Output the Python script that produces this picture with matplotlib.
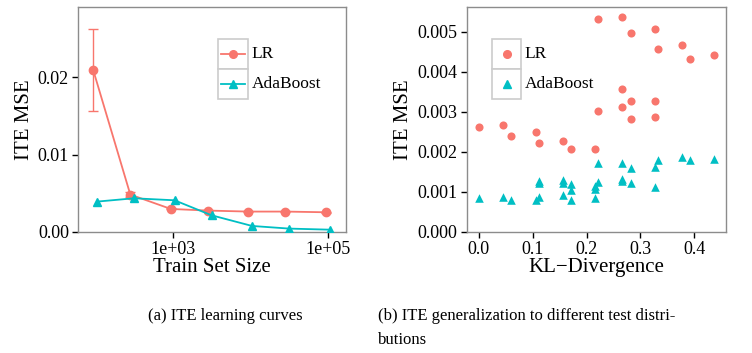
import numpy as np
import matplotlib.pyplot as plt
from matplotlib.lines import Line2D
from matplotlib.patches import Rectangle

plt.rcParams['font.family'] = ['Liberation Serif', 'DejaVu Serif']

LR_COL = '#F8766D'
ADA_COL = '#00BFC4'

# (a) learning curves
train_size = [100, 300, 1000, 3000, 10000, 30000, 100000]
lr_mse = [0.0209, 0.00484, 0.00298, 0.00277, 0.00264, 0.00264, 0.00255]
lr_low = [0.0157, 0.0045, 0.00292, 0.00272, 0.00260, 0.00260, 0.00252]
lr_high = [0.0263, 0.0052, 0.00304, 0.00282, 0.00268, 0.00268, 0.00258]
ada_mse = [0.00393, 0.00436, 0.00410, 0.00216, 0.00078, 0.00044, 0.00030]

# (b) generalization vs KL divergence
lr_kl = [0.0, 0.045, 0.0606, 0.1057, 0.111, 0.156, 0.172, 0.216, 0.222, 0.222,
         0.266, 0.266, 0.266, 0.2825, 0.2825, 0.2825, 0.327, 0.327, 0.327,
         0.3326, 0.377, 0.3926, 0.437]
lr_gen = [0.00263, 0.00268, 0.00241, 0.00251, 0.00223, 0.00228, 0.00208,
          0.00208, 0.00303, 0.00532, 0.00537, 0.00356, 0.00311, 0.00496,
          0.00326, 0.00281, 0.00506, 0.00326, 0.00288, 0.00456, 0.00468,
          0.00431, 0.00441]
ada_kl = [0.0, 0.045, 0.0606, 0.1057, 0.111, 0.111, 0.111, 0.156, 0.156, 0.156,
          0.172, 0.172, 0.172, 0.216, 0.216, 0.216, 0.222, 0.222, 0.266, 0.266,
          0.266, 0.2825, 0.2825, 0.327, 0.327, 0.3326, 0.377, 0.3926, 0.437]
ada_gen = [0.00085, 0.00088, 0.00079, 0.00081, 0.00088, 0.00128, 0.00122,
           0.00129, 0.00122, 0.00092, 0.00121, 0.00106, 0.00079, 0.00085,
           0.00108, 0.00115, 0.00173, 0.00126, 0.00173, 0.00132, 0.00127,
           0.00160, 0.00123, 0.00162, 0.00113, 0.00181, 0.00187, 0.00181,
           0.00183]


def style_axes(ax):
    for s in ax.spines.values():
        s.set_color('#8c8c8c')
        s.set_linewidth(1.0)
    ax.tick_params(direction='out', length=4.5, width=1, colors='black',
                   labelsize=13, pad=2)
    ax.set_facecolor('white')


def draw_legend(ax, x0, with_line):
    w, h = 0.112, 0.133
    tops = [0.858, 0.725]
    for (lab, col, mk), top in zip([('LR', LR_COL, 'o'), ('AdaBoost', ADA_COL, '^')], tops):
        ax.add_patch(Rectangle((x0, top - h), w, h, transform=ax.transAxes,
                               facecolor='white', edgecolor='#cccccc', lw=1.2,
                               clip_on=False, zorder=5))
        yc = top - h / 2
        if with_line:
            ax.add_line(Line2D([x0 + 0.01, x0 + w - 0.01], [yc, yc], color=col, lw=1.3,
                               transform=ax.transAxes, zorder=6))
        ax.add_line(Line2D([x0 + w / 2], [yc], marker=mk, color=col, ms=5.5,
                           transform=ax.transAxes, zorder=7))
        ax.text(x0 + w + 0.015, yc, lab, transform=ax.transAxes, fontsize=12.5,
                va='center', ha='left', zorder=7)


fig = plt.figure(figsize=(7.52, 3.53), dpi=100)
ax1 = fig.add_axes([0.1037, 0.3428, 0.3564, 0.6374])
ax2 = fig.add_axes([0.6206, 0.3428, 0.3448, 0.6374])

# left panel
dodge = 10 ** 0.024
x = np.array(train_size, dtype=float)
lr = np.array(lr_mse)
ax1.errorbar(x / dodge, lr, yerr=[lr - np.array(lr_low), np.array(lr_high) - lr],
             color=LR_COL, lw=1.3, marker='o', ms=6, capsize=3.5, elinewidth=1.0,
             capthick=1.0, zorder=3)
ax1.plot(x * dodge, ada_mse, color=ADA_COL, lw=1.3, marker='^', ms=6, zorder=4)
ax1.set_xscale('log')
ax1.set_xlim(60, 172000)
ax1.set_ylim(0, 0.0291)
ax1.set_xticks([1e3, 1e5])
ax1.set_xticklabels(['1e+03', '1e+05'])
ax1.minorticks_off()
ax1.set_yticks([0, 0.01, 0.02])
ax1.set_yticklabels(['0.00', '0.01', '0.02'])
ax1.set_xlabel('Train Set Size', fontsize=15, labelpad=0)
ax1.set_ylabel('ITE MSE', fontsize=15, labelpad=3)
style_axes(ax1)
draw_legend(ax1, 0.522, True)

# right panel
ax2.scatter(lr_kl, lr_gen, color=LR_COL, marker='o', s=34, linewidths=0, zorder=3)
ax2.scatter(ada_kl, ada_gen, color=ADA_COL, marker='^', s=38, linewidths=0, zorder=3)
ax2.set_xlim(-0.0223, 0.4587)
ax2.set_ylim(0, 0.00562)
ax2.set_xticks([0.0, 0.1, 0.2, 0.3, 0.4])
ax2.set_xticklabels(['0.0', '0.1', '0.2', '0.3', '0.4'])
ax2.set_yticks([0, 0.001, 0.002, 0.003, 0.004, 0.005])
ax2.set_yticklabels(['0.000', '0.001', '0.002', '0.003', '0.004', '0.005'])
ax2.set_xlabel('KL\u2212Divergence', fontsize=15, labelpad=0)
ax2.set_ylabel('ITE MSE', fontsize=15, labelpad=3)
style_axes(ax2)
draw_legend(ax2, 0.0976, False)

fig.text(0.1968, 0.105, '(a) ITE learning curves', fontsize=12, ha='left', va='center')
fig.text(0.5027, 0.105, '(b) ITE generalization to different test distri-',
         fontsize=12, ha='left', va='center')
fig.text(0.5027, 0.037, 'butions', fontsize=12, ha='left', va='center')

fig.savefig('out.png', dpi=100)
